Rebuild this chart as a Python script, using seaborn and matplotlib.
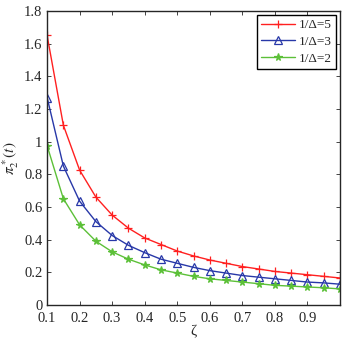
import numpy as np
import pandas as pd
import matplotlib
matplotlib.use('Agg')
import matplotlib.pyplot as plt
import seaborn as sns

zeta = [0.10, 0.15, 0.20, 0.25, 0.30, 0.35, 0.40, 0.45, 0.50, 0.55,
        0.60, 0.65, 0.70, 0.75, 0.80, 0.85, 0.90, 0.95, 1.00]
pi_d5 = [1.65, 1.10, 0.825, 0.66, 0.55, 0.47, 0.41, 0.37, 0.33, 0.30,
         0.275, 0.255, 0.235, 0.22, 0.205, 0.195, 0.185, 0.175, 0.165]
pi_d3 = [1.27, 0.85, 0.635, 0.51, 0.425, 0.365, 0.32, 0.28, 0.255, 0.23,
         0.21, 0.195, 0.18, 0.17, 0.16, 0.15, 0.14, 0.135, 0.127]
pi_d2 = [0.975, 0.65, 0.49, 0.39, 0.325, 0.28, 0.245, 0.215, 0.195, 0.175,
         0.16, 0.15, 0.14, 0.13, 0.12, 0.115, 0.11, 0.105, 0.098]
labels = ['1/\u0394=5', '1/\u0394=3', '1/\u0394=2']
x_ticks = [0.1, 0.2, 0.3, 0.4, 0.5, 0.6, 0.7, 0.8, 0.9]
y_ticks = [0, 0.2, 0.4, 0.6, 0.8, 1, 1.2, 1.4, 1.6, 1.8]

sns.set_style('ticks')
plt.rcParams['font.family'] = ['Liberation Serif', 'DejaVu Serif']
plt.rcParams['mathtext.fontset'] = 'stix'

fig = plt.figure(figsize=(3.49, 3.43), dpi=100)
ax = fig.add_axes([0.135, 0.111, 0.839, 0.857])

styles = [('#ff2020', '+', 'full'), ('#2838a8', '^', 'none'), ('#5cc038', '*', 'full')]
for ys, lab, (c, m, fs) in zip([pi_d5, pi_d3, pi_d2], labels, styles):
    df = pd.DataFrame({'zeta': zeta, 'pi': ys})
    sns.lineplot(data=df, x='zeta', y='pi', ax=ax, color=c, lw=1.0, label=lab,
                 marker=m, markersize=6 if m != '*' else 5.5, fillstyle=fs,
                 markeredgecolor=c, markeredgewidth=0.9,
                 markerfacecolor=c if fs == 'full' else 'none')

ax.set_xlim(0.1, 1.0)
ax.set_ylim(0, 1.8)
ax.set_xticks(x_ticks)
ax.set_xticklabels([f'{t:g}' for t in x_ticks])
ax.set_yticks(y_ticks)
ax.set_yticklabels([f'{t:g}' for t in y_ticks])
ax.tick_params(direction='in', top=True, right=True, labelsize=10.5, length=3, width=0.6)
ax.tick_params(axis='x', pad=5)
for s in ax.spines.values():
    s.set_linewidth(1.0)
ax.set_xlabel('\u03b6', fontsize=11, labelpad=0)
ax.set_ylabel(r'$\pi_2^*(t)$', fontsize=11, labelpad=2)

leg = ax.legend(loc='upper right', fontsize=9.5, frameon=True, fancybox=False,
                edgecolor='black', framealpha=1, borderpad=0.3, labelspacing=0.35,
                handlelength=2.6, handletextpad=0.3, borderaxespad=0.3)
leg.get_frame().set_linewidth(1.0)

fig.savefig('out.png', dpi=100)
